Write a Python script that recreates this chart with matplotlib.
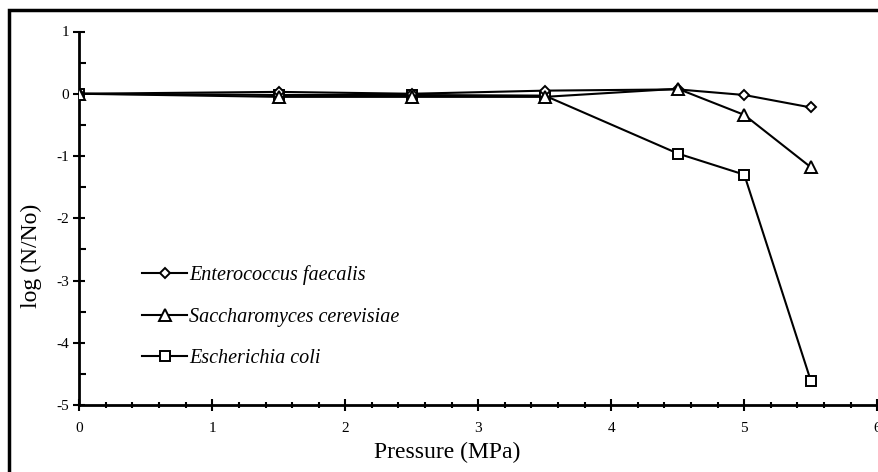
import matplotlib
matplotlib.use("Agg")
import matplotlib.pyplot as plt
from matplotlib.patches import Rectangle
from matplotlib.ticker import MultipleLocator

pressure = [0, 1.5, 2.5, 3.5, 4.5, 5.0, 5.5]
enterococcus = [0.0, 0.03, 0.0, 0.05, 0.07, -0.02, -0.22]
saccharomyces = [0.0, -0.05, -0.05, -0.05, 0.08, -0.34, -1.18]
escherichia = [0.0, -0.02, -0.02, -0.03, -0.96, -1.30, -4.61]
labels = ["Enterococcus faecalis", "Saccharomyces cerevisiae", "Escherichia coli"]

plt.rcParams['font.family'] = ['Liberation Serif', 'DejaVu Serif']
plt.rcParams['axes.unicode_minus'] = False

fig = plt.figure(figsize=(8.79, 4.72), dpi=100)
ax = fig.add_axes([79.3/879, 1-405/472, (877.3-79.3)/879, (405-31.5)/472])

common = dict(color='black', lw=1.5, mfc='white', mec='black', mew=1.4)
h3, = ax.plot(pressure, escherichia, marker='s', ms=6.5, **common, zorder=3)
h1, = ax.plot(pressure, enterococcus, marker='D', ms=5.5, **common, zorder=4)
h2, = ax.plot(pressure, saccharomyces, marker='^', ms=8, **common, zorder=5)

ax.set_xlim(0, 6)
ax.set_ylim(-5, 1)
for s in ['top', 'right']:
    ax.spines[s].set_visible(False)
for s in ['left', 'bottom']:
    ax.spines[s].set_linewidth(2)

ax.xaxis.set_major_locator(MultipleLocator(1))
ax.xaxis.set_minor_locator(MultipleLocator(0.2))
ax.yaxis.set_major_locator(MultipleLocator(1))
ax.yaxis.set_minor_locator(MultipleLocator(0.5))
ax.tick_params(axis='x', which='major', direction='inout', length=9, width=1.5, labelsize=11, pad=8)
ax.tick_params(axis='x', which='minor', direction='inout', length=4, width=1.5)
ax.tick_params(axis='y', which='major', direction='inout', length=9, width=1.5, labelsize=11, pad=3)
ax.tick_params(axis='y', which='minor', direction='in', length=5, width=1.5)

ax.set_xlabel("Pressure (MPa)", fontsize=17)
ax.set_ylabel("log (N/No)", fontsize=17)
ax.xaxis.set_label_coords(0.461, -0.126)
ax.xaxis.label.set_verticalalignment('center')
ax.yaxis.set_label_coords(-0.0605, 0.399)
ax.yaxis.label.set_verticalalignment('center')

leg = ax.legend([h1, h2, h3], labels, loc='upper left', bbox_to_anchor=(0.0786, 0.3735),
                frameon=False, handlelength=2.24, handletextpad=0.1,
                borderaxespad=0, borderpad=0,
                labelspacing=1.1, prop={'family': 'Liberation Serif', 'style': 'italic', 'size': 14.5})

fig.add_artist(Rectangle((9/879, -0.05), 1.0, 1-10/472+0.05, transform=fig.transFigure,
                         fill=False, lw=2.5, ec='black', clip_on=False))

fig.savefig("out.png", dpi=100)
